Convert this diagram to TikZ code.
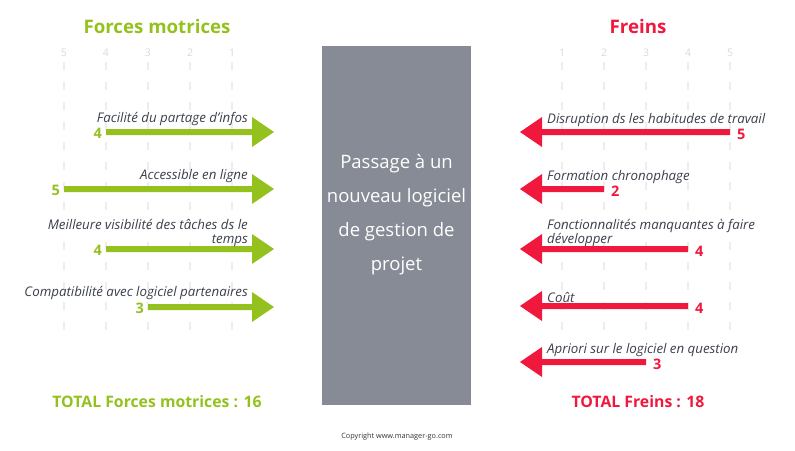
\documentclass[tikz,border=0pt]{standalone}
\usepackage{fontspec}
\setmainfont{Open Sans}
\definecolor{gr}{HTML}{95C11F}
\definecolor{rd}{HTML}{F0183C}
\definecolor{txt}{HTML}{3A3F4A}
\definecolor{box}{HTML}{868B95}
\begin{document}
\begin{tikzpicture}[x=1pt,y=-1pt,
 grid/.style={draw=black!7,line width=1.2pt,dash pattern=on 8pt off 12pt},
 tick/.style={text=black!15,font=\fontsize{10.5}{10.5}\selectfont},
 lab/.style={text=txt,font=\fontsize{13.3}{14.5}\selectfont\itshape,inner sep=0pt},
 num/.style={font=\fontsize{14.5}{14.5}\selectfont\bfseries,inner sep=0pt},
 garrow/.style={fill=gr},
 rarrow/.style={fill=rd}]
\useasboundingbox (0,0) rectangle (795,450);
\foreach \x/\v in {64/5,106/4,148/3,190/2,232/1}{
 \node[tick] (tl\v) at (\x,53) {\v};
 \draw[grid] (\x,62) -- (\x,330);}
\foreach \x/\v in {562/1,604/2,646/3,688/4,730/5}{
 \node[tick] (tr\v) at (\x,53) {\v};
 \draw[grid] (\x,62) -- (\x,330);}
\node[font=\fontsize{18.7}{18.7}\selectfont\bfseries,text=gr] (tg) at (157,26) {Forces motrices};
\node[font=\fontsize{18.7}{18.7}\selectfont\bfseries,text=rd] (tr) at (638,26) {Freins};
\node[fill=box,minimum width=149,minimum height=359,inner sep=0pt] (c) at (396.5,225.5) {};
\node[text=white,align=center,font=\fontsize{18.5}{34}\selectfont] (ct) at (396.5,215) {Passage à un\\nouveau logiciel\\de gestion de\\projet};
% left arrows
\foreach \y/\s/\n [count=\i] in {132/106/4,189/64/5,249/106/4,307/148/3}{
 \path[garrow] (\s,\y-3) -- (252,\y-3) -- (252,\y-15) -- (274,\y) -- (252,\y+15) -- (252,\y+3) -- (\s,\y+3) -- cycle;
 \node[num,text=gr,anchor=east] (ln\i) at (\s-4,\y+1) {\n};}
\node[lab,anchor=south east] (l1) at (248,126) {Facilité du partage d'infos};
\node[lab,anchor=south east] (l2) at (248,183) {Accessible en ligne};
\node[lab,anchor=south east,align=right] (l3) at (248,247) {Meilleure visibilité des tâches ds le\\temps};
\node[lab,anchor=south east] (l4) at (248,300) {Compatibilité avec logiciel partenaires};
% right arrows
\foreach \y/\e/\n [count=\i] in {132/730/5,189/604/2,249/688/4,306/688/4,362/646/3}{
 \path[rarrow] (\e,\y-3) -- (542,\y-3) -- (542,\y-15) -- (520,\y) -- (542,\y+15) -- (542,\y+3) -- (\e,\y+3) -- cycle;
 \node[num,text=rd,anchor=west] (rn\i) at (\e+7,\y+2) {\n};}
\node[lab,anchor=south west] (r1) at (547,127) {Disruption ds les habitudes de travail};
\node[lab,anchor=south west] (r2) at (547,184) {Formation chronophage};
\node[lab,anchor=south west,align=left] (r3) at (547,247) {Fonctionnalités manquantes à faire\\développer};
\node[lab,anchor=south west] (r4) at (547,303) {Coût};
\node[lab,anchor=south west] (r5) at (547,357) {Apriori sur le logiciel en question};
\node[font=\fontsize{15.8}{15.8}\selectfont\bfseries,text=gr] (tot1) at (157,402) {TOTAL Forces motrices : 16};
\node[font=\fontsize{15.8}{15.8}\selectfont\bfseries,text=rd] (tot2) at (638,402) {TOTAL Freins : 18};
\node[font=\fontsize{7.3}{7.3}\selectfont,text=black!80] (cp) at (397,437) {Copyright www.manager-go.com};
\end{tikzpicture}
\end{document}
